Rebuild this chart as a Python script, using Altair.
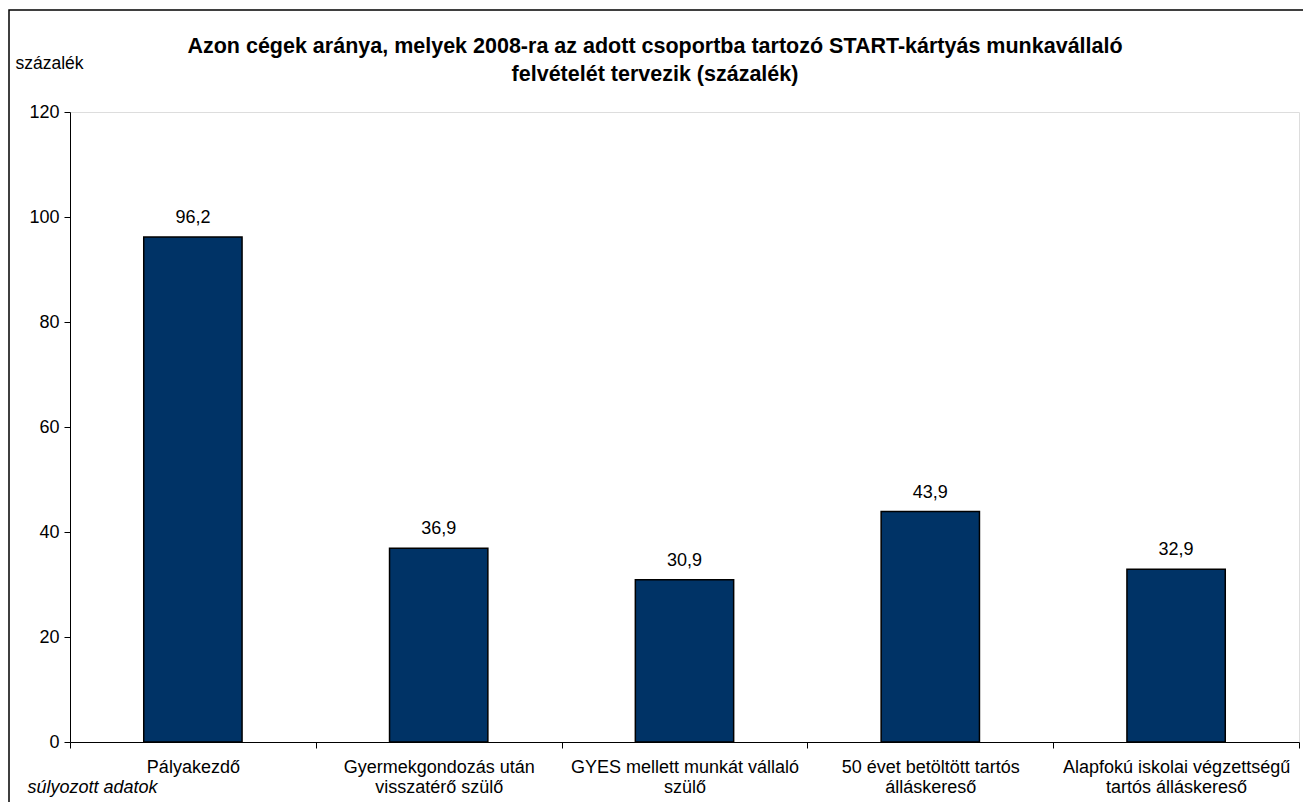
import altair as alt
import pandas as pd

categories = [
    "Pályakezdő",
    "Gyermekgondozás után|visszatérő szülő",
    "GYES mellett munkát vállaló|szülő",
    "50 évet betöltött tartós|álláskereső",
    "Alapfokú iskolai végzettségű|tartós álláskereső",
]
values = [96.2, 36.9, 30.9, 43.9, 32.9]
y_ticks = [0, 20, 40, 60, 80, 100, 120]
title_lines = [
    "Azon cégek aránya, melyek 2008-ra az adott csoportba tartozó START-kártyás munkavállaló",
    "felvételét tervezik (százalék)",
]

FONT = "Liberation Sans"
W, H = 1229, 630

df = pd.DataFrame({"cat": categories, "v": values})

x = alt.X(
    "cat:N", sort=None, title="súlyozott adatok",
    scale=alt.Scale(paddingInner=0, paddingOuter=0),
    axis=alt.Axis(
        tickBand="extent", labelAngle=0, labelExpr="split(datum.label, '|')",
        tickSize=6, tickColor="black", domainColor="black", labelPadding=10,
        labelFont=FONT, labelFontSize=18, labelColor="black", labelLineHeight=20,
        labelBaseline="top", labelLimit=0,
        titleX=-43, titleY=45, titleAlign="left", titleBaseline="middle",
        titleFont=FONT, titleFontSize=18, titleFontStyle="italic",
        titleFontWeight="normal", titleColor="black",
    ),
)
y = alt.Y(
    "v:Q", title="százalék",
    scale=alt.Scale(domain=[0, 120], nice=False),
    axis=alt.Axis(
        values=y_ticks, grid=False, tickSize=6, tickColor="black",
        domainColor="black", labelPadding=5, labelFont=FONT, labelFontSize=18,
        labelColor="black",
        titleAngle=0, titleX=-55, titleY=-49, titleAlign="left",
        titleBaseline="middle", titleFont=FONT, titleFontSize=17.5,
        titleFontWeight="normal", titleColor="black",
    ),
)

base = alt.Chart(df)
bars = base.mark_bar(
    width=alt.RelativeBandSize(0.4), color="#003366", stroke="black", strokeWidth=1.5
).encode(x=x, y=y)
labels = base.transform_calculate(
    lbl="replace(format(datum.v, '.1f'), '.', ',')"
).mark_text(
    baseline="bottom", dy=-10, font=FONT, fontSize=18, color="black"
).encode(x=alt.X("cat:N", sort=None), y="v:Q", text="lbl:N")

one = pd.DataFrame({"a": [0]})
frame = alt.Chart(one).mark_rect(
    fill=None, stroke="black", strokeWidth=1.5
).encode(
    x=alt.value(-61), x2=alt.value(1300), y=alt.value(-102), y2=alt.value(760)
)
title = alt.Chart(one).mark_text(
    text=title_lines, font=FONT, fontSize=21.5, fontWeight="bold", color="black",
    align="center", baseline="alphabetic", lineHeight=28,
).encode(x=alt.value(585), y=alt.value(-59))

chart = alt.layer(frame, title, bars, labels).properties(
    width=W, height=H,
    autosize=alt.AutoSizeParams(type="none"),
    padding={"left": 62, "top": 104, "right": 4, "bottom": 60},
).configure_view(stroke="#777777", strokeWidth=1.5).configure(background="white")

chart.save("out.html", embed_options={"renderer": "svg", "actions": False})
